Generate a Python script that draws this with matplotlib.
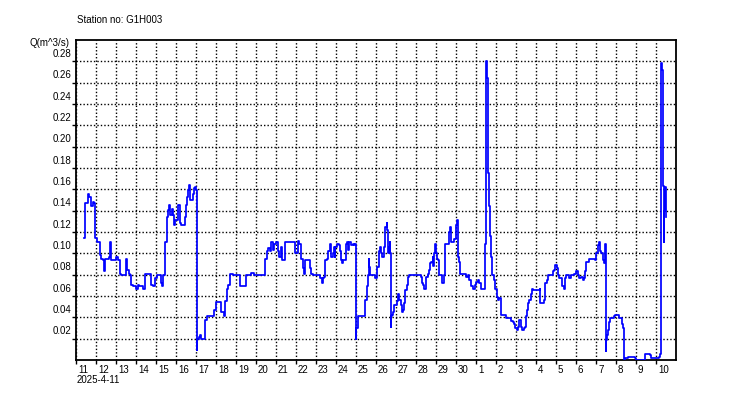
"""
Discharge hydrograph for station G1H003 (2025-04-11 .. 2025-05-10)
"""

import matplotlib
matplotlib.use("Agg")
import matplotlib.pyplot as plt
import matplotlib.transforms as mtrans
import numpy as np

plt.rcParams["font.family"] = ["Liberation Sans", "DejaVu Sans"]

station = "G1H003"
start_label = "2025-4-11"
y_label = "Q(m^3/s)"

# days since 2025-04-11 00:00
t_days = [
    0.417, 0.45, 0.467, 0.583, 0.617, 0.667, 0.75, 0.833, 0.917, 0.95,
    0.967, 1.033, 1.2, 1.267, 1.333, 1.417, 1.467, 1.667, 1.717, 1.75,
    2.0, 2.083, 2.217, 2.25, 2.5, 2.55, 2.633, 2.717, 2.75, 2.833,
    3.0, 3.083, 3.167, 3.333, 3.467, 3.667, 3.75, 3.833, 3.95, 4.033,
    4.167, 4.25, 4.3, 4.367, 4.45, 4.467, 4.533, 4.583, 4.667, 4.717,
    4.783, 4.867, 4.917, 4.967, 5.083, 5.15, 5.2, 5.25, 5.433, 5.5,
    5.55, 5.617, 5.667, 5.717, 5.833, 5.917, 5.967, 6.0, 6.033, 6.067,
    6.133, 6.2, 6.25, 6.467, 6.533, 6.833, 6.917, 7.0, 7.167, 7.25,
    7.417, 7.467, 7.533, 7.583, 7.717, 7.833, 8.217, 8.5, 8.75, 8.917,
    9.417, 9.467, 9.533, 9.583, 9.7, 9.767, 9.833, 9.917, 10.0, 10.083,
    10.167, 10.25, 10.3, 10.467, 10.917, 10.967, 11.083, 11.167, 11.25, 11.333,
    11.383, 11.45, 11.667, 11.717, 11.75, 11.833, 12.217, 12.283, 12.333, 12.417,
    12.467, 12.55, 12.617, 12.7, 12.75, 12.833, 12.883, 12.933, 12.967, 13.033,
    13.167, 13.2, 13.25, 13.3, 13.333, 13.467, 13.5, 13.55, 13.617, 13.667,
    13.75, 13.833, 13.917, 13.967, 13.983, 14.0, 14.083, 14.417, 14.467, 14.533,
    14.583, 14.633, 14.667, 14.717, 14.917, 14.967, 15.05, 15.133, 15.2, 15.25,
    15.3, 15.383, 15.433, 15.467, 15.533, 15.567, 15.6, 15.633, 15.667, 15.7,
    15.717, 15.733, 15.75, 15.8, 15.867, 15.917, 16.033, 16.083, 16.133, 16.25,
    16.3, 16.367, 16.417, 16.467, 16.533, 16.583, 16.667, 17.25, 17.3, 17.367,
    17.417, 17.5, 17.583, 17.633, 17.7, 17.75, 17.833, 17.867, 17.917, 17.967,
    18.0, 18.05, 18.117, 18.167, 18.3, 18.383, 18.467, 18.633, 18.667, 18.7,
    18.75, 18.917, 19.0, 19.05, 19.083, 19.117, 19.167, 19.217, 19.5, 19.583,
    19.667, 19.75, 19.867, 19.933, 20.0, 20.083, 20.167, 20.25, 20.417, 20.467,
    20.5, 20.533, 20.55, 20.583, 20.617, 20.633, 20.7, 20.733, 20.8, 20.917,
    20.967, 21.033, 21.083, 21.167, 21.25, 21.5, 21.75, 21.833, 21.917, 21.967,
    22.033, 22.083, 22.133, 22.2, 22.25, 22.3, 22.383, 22.467, 22.5, 22.533,
    22.583, 22.667, 22.75, 22.8, 22.867, 23.2, 23.217, 23.417, 23.467, 23.533,
    23.583, 23.75, 23.833, 23.917, 23.967, 24.033, 24.083, 24.133, 24.283, 24.417,
    24.467, 24.5, 24.667, 24.75, 24.917, 25.0, 25.083, 25.167, 25.25, 25.333,
    25.417, 25.467, 25.5, 25.667, 25.833, 25.967, 26.0, 26.083, 26.133, 26.2,
    26.25, 26.333, 26.383, 26.433, 26.467, 26.483, 26.5, 26.55, 26.6, 26.667,
    26.717, 26.917, 26.967, 27.167, 27.3, 27.367, 27.4, 27.433, 27.583, 27.833,
    27.933, 28.0, 28.433, 28.467, 28.7, 28.75, 29.133, 29.2, 29.233, 29.267,
    29.317, 29.333, 29.367, 29.383, 29.417, 29.45, 29.467, 29.483,
]

# discharge, m^3/s
q = [
    0.114, 0.119, 0.147, 0.148, 0.156, 0.153, 0.144, 0.148, 0.147, 0.144,
    0.114, 0.111, 0.098, 0.095, 0.094, 0.083, 0.095, 0.097, 0.111, 0.094,
    0.097, 0.094, 0.081, 0.080, 0.095, 0.084, 0.081, 0.080, 0.070, 0.069,
    0.067, 0.070, 0.069, 0.067, 0.081, 0.081, 0.070, 0.069, 0.077, 0.080,
    0.080, 0.072, 0.069, 0.080, 0.083, 0.111, 0.134, 0.141, 0.145, 0.136,
    0.142, 0.136, 0.127, 0.131, 0.145, 0.145, 0.128, 0.127, 0.134, 0.145,
    0.153, 0.159, 0.164, 0.150, 0.156, 0.161, 0.162, 0.159, 0.009, 0.020,
    0.022, 0.023, 0.020, 0.0375, 0.041, 0.041, 0.047, 0.054, 0.054, 0.045,
    0.041, 0.055, 0.067, 0.070, 0.081, 0.080, 0.069, 0.080, 0.082, 0.080,
    0.080, 0.095, 0.102, 0.105, 0.102, 0.111, 0.103, 0.109, 0.111, 0.102,
    0.097, 0.106, 0.094, 0.111, 0.111, 0.100, 0.112, 0.109, 0.095, 0.086,
    0.081, 0.094, 0.094, 0.086, 0.081, 0.080, 0.077, 0.072, 0.077, 0.078,
    0.094, 0.095, 0.102, 0.109, 0.097, 0.100, 0.106, 0.097, 0.106, 0.109,
    0.108, 0.102, 0.094, 0.091, 0.094, 0.094, 0.109, 0.111, 0.103, 0.111,
    0.108, 0.109, 0.108, 0.109, 0.020, 0.030, 0.041, 0.041, 0.056, 0.069,
    0.080, 0.095, 0.087, 0.080, 0.080, 0.077, 0.087, 0.102, 0.106, 0.100,
    0.097, 0.106, 0.109, 0.125, 0.128, 0.122, 0.100, 0.106, 0.102, 0.111,
    0.100, 0.031, 0.041, 0.042, 0.045, 0.052, 0.055, 0.062, 0.056, 0.052,
    0.045, 0.047, 0.053, 0.066, 0.070, 0.078, 0.080, 0.078, 0.072, 0.070,
    0.067, 0.078, 0.081, 0.084, 0.091, 0.092, 0.097, 0.088, 0.100, 0.109,
    0.100, 0.095, 0.094, 0.080, 0.072, 0.080, 0.109, 0.111, 0.120, 0.125,
    0.111, 0.113, 0.127, 0.131, 0.125, 0.097, 0.092, 0.081, 0.078, 0.080,
    0.075, 0.069, 0.067, 0.070, 0.073, 0.075, 0.072, 0.067, 0.067, 0.109,
    0.280, 0.280, 0.264, 0.206, 0.175, 0.144, 0.116, 0.097, 0.080, 0.075,
    0.067, 0.059, 0.056, 0.058, 0.042, 0.039, 0.037, 0.036, 0.034, 0.030,
    0.028, 0.031, 0.0375, 0.0375, 0.031, 0.028, 0.030, 0.031, 0.041, 0.047,
    0.053, 0.056, 0.062, 0.067, 0.066, 0.067, 0.053, 0.056, 0.072, 0.075,
    0.080, 0.080, 0.083, 0.084, 0.089, 0.086, 0.080, 0.077, 0.069, 0.067,
    0.077, 0.080, 0.077, 0.080, 0.081, 0.083, 0.080, 0.077, 0.078, 0.075,
    0.077, 0.083, 0.092, 0.095, 0.095, 0.094, 0.100, 0.108, 0.111, 0.102,
    0.100, 0.094, 0.091, 0.098, 0.109, 0.008, 0.019, 0.023, 0.028, 0.036,
    0.039, 0.041, 0.042, 0.039, 0.034, 0.030, 0.0, 0.002, 0.003, 0.0025,
    0.002, 0.0, 0.0, 0.0056, 0.0047, 0.0016, 0.003, 0.0056, 0.027, 0.278,
    0.272, 0.195, 0.163, 0.111, 0.140, 0.150, 0.162, 0.134,
]

day_labels = [str(d) for d in list(range(11, 31)) + list(range(1, 11))]
y_ticks = [0.02, 0.04, 0.06, 0.08, 0.10, 0.12, 0.14, 0.16, 0.18, 0.20,
           0.22, 0.24, 0.26, 0.28]

fig = plt.figure(figsize=(7.5, 4), dpi=100)
ax = fig.add_axes([76 / 750, 40 / 400, 600 / 750, 320 / 400])

ax.plot(t_days, q, color="#0000ff", linewidth=1.25, drawstyle="steps-post", zorder=3)

ax.set_xlim(0, 30)
ax.set_ylim(0, 0.30)

ax.set_xticks(np.arange(len(day_labels)))
ax.set_xticklabels(day_labels)
ax.set_yticks(y_ticks)
ax.set_yticklabels([f"{v:.2f}" for v in y_ticks])

ax.tick_params(axis="both", direction="out", length=3, width=1, color="black",
               labelsize=7, pad=0.5)

# x labels start right of their tick, y labels sit above their grid line
dx = mtrans.ScaledTranslation(2 / 100, 0, fig.dpi_scale_trans)
for lab in ax.get_xticklabels():
    lab.set_ha("left")
    lab.set_transform(lab.get_transform() + dx)
dy = mtrans.ScaledTranslation(0, 2.5 / 100, fig.dpi_scale_trans)
for lab in ax.get_yticklabels():
    lab.set_va("bottom")
    lab.set_transform(lab.get_transform() + dy)

ax.grid(True, color="black", linestyle=(0, (1, 1.5)), linewidth=1.0)
ax.set_axisbelow(True)
for sp in ax.spines.values():
    sp.set_linewidth(1.3)
    sp.set_color("black")

fig.text(77 / 750, 1 - 20 / 400, f"Station no: {station}", fontsize=7,
         ha="left", va="center")
fig.text(69 / 750, 1 - 43 / 400, y_label, fontsize=7, ha="right", va="center")
fig.text(77 / 750, 1 - 380 / 400, start_label, fontsize=7, ha="left", va="center")

plt.savefig("out.png", dpi=100)
plt.close()
